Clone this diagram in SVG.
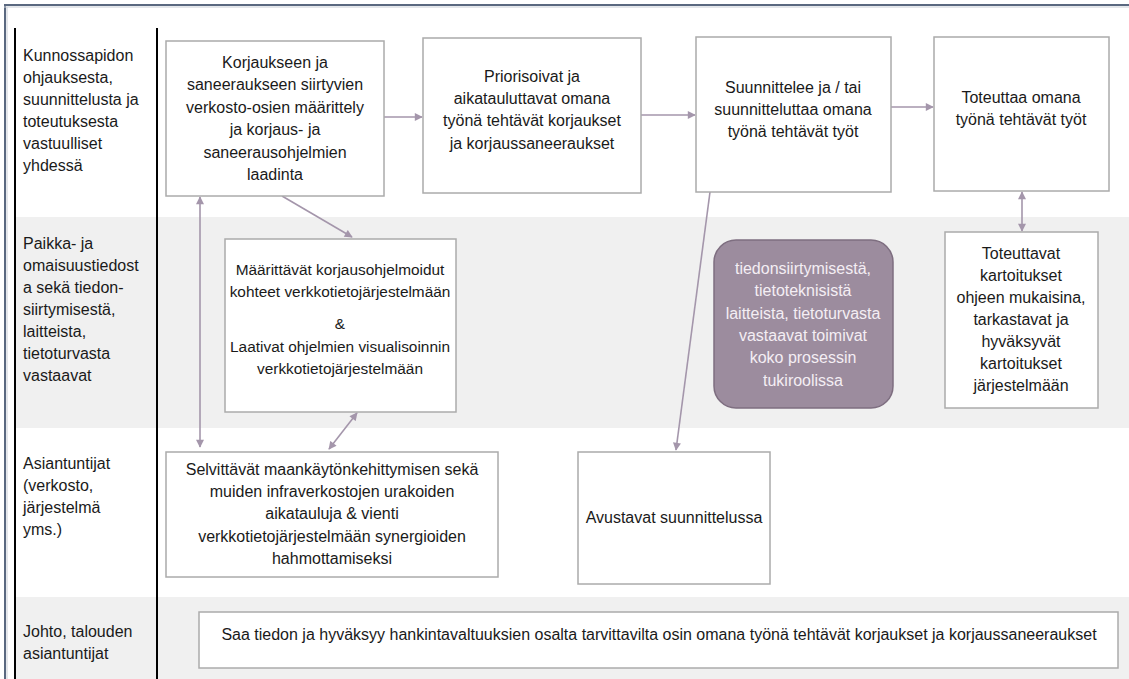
<svg xmlns="http://www.w3.org/2000/svg" width="1129" height="679" viewBox="0 0 1129 679">
  <style>
    text { font-family: "Liberation Sans", Arial, sans-serif; font-size: 16px; fill: #1a1a1a; }
    .c { text-anchor: middle; }
    .lbl { text-anchor: start; }
    .tight { font-size: 15.4px; }
    .box { fill: #ffffff; stroke: #ababab; stroke-width: 1.5; }
    .lane-w { fill: #ffffff; }
    .lane-g { fill: #f0f0f0; }
    .edge { fill: none; stroke: #a496ab; stroke-width: 1.6; }
    .support { fill: #9c8c9e; stroke: #7e6e80; stroke-width: 1.5; }
    .support-t { fill: #f4eef4; text-anchor: middle; }
  </style>
  <defs>
    <marker id="arrow" viewBox="0 0 10 10" refX="9" refY="5" markerWidth="10" markerHeight="8" markerUnits="userSpaceOnUse" orient="auto-start-reverse">
      <path d="M0,0 L10,5 L0,10 z" fill="#a496ab"/>
    </marker>
  </defs>

  <!-- page background and frame -->
  <rect x="0" y="0" width="1129" height="679" fill="#ffffff"/>
  <g id="lanes">
    <rect class="lane-w" x="15" y="28" width="1114" height="189"/>
    <rect class="lane-g" x="15" y="217" width="1114" height="211"/>
    <rect class="lane-w" x="15" y="428" width="1114" height="169"/>
    <rect class="lane-g" x="15" y="597" width="1114" height="82"/>
  </g>
  <g id="frame">
    <line x1="4" y1="5" x2="1129" y2="5" stroke="#5a6880" stroke-width="2"/>
    <line x1="5" y1="4" x2="5" y2="679" stroke="#5a6880" stroke-width="2"/>
    <line x1="4" y1="7" x2="1129" y2="7" stroke="#c9ced6" stroke-width="1"/>
    <line x1="7" y1="7" x2="7" y2="679" stroke="#c9ced6" stroke-width="1"/>
    <line x1="15" y1="28" x2="15" y2="679" stroke="#000000" stroke-width="2"/>
    <line x1="157" y1="28" x2="157" y2="679" stroke="#000000" stroke-width="2"/>
  </g>

  <!-- lane headings -->
  <g id="lane-labels">
    <text class="lbl" x="23" y="61">Kunnossapidon</text>
    <text class="lbl" x="23" y="83">ohjauksesta,</text>
    <text class="lbl" x="23" y="105">suunnittelusta ja</text>
    <text class="lbl" x="23" y="127">toteutuksesta</text>
    <text class="lbl" x="23" y="149">vastuulliset</text>
    <text class="lbl" x="23" y="171">yhdessä</text>

    <text class="lbl" x="23" y="249">Paikka- ja</text>
    <text class="lbl" x="23" y="271">omaisuustiedost</text>
    <text class="lbl" x="23" y="293">a sekä tiedon-</text>
    <text class="lbl" x="23" y="315">siirtymisestä,</text>
    <text class="lbl" x="23" y="337">laitteista,</text>
    <text class="lbl" x="23" y="359">tietoturvasta</text>
    <text class="lbl" x="23" y="381">vastaavat</text>

    <text class="lbl" x="23" y="469">Asiantuntijat</text>
    <text class="lbl" x="23" y="491">(verkosto,</text>
    <text class="lbl" x="23" y="513">järjestelmä</text>
    <text class="lbl" x="23" y="535">yms.)</text>

    <text class="lbl" x="23" y="637">Johto, talouden</text>
    <text class="lbl" x="23" y="659">asiantuntijat</text>
  </g>

  <!-- connectors -->
  <g id="connectors">
    <line class="edge" x1="384" y1="117" x2="422" y2="117" marker-end="url(#arrow)"/>
    <line class="edge" x1="641" y1="115" x2="695" y2="115" marker-end="url(#arrow)"/>
    <line class="edge" x1="891" y1="107" x2="933" y2="107" marker-end="url(#arrow)"/>
    <line class="edge" x1="1022" y1="192" x2="1022" y2="231" marker-start="url(#arrow)" marker-end="url(#arrow)"/>
    <line class="edge" x1="282" y1="196" x2="352" y2="237" marker-end="url(#arrow)"/>
    <line class="edge" x1="200" y1="197" x2="200" y2="447" marker-start="url(#arrow)" marker-end="url(#arrow)"/>
    <line class="edge" x1="357" y1="413" x2="329" y2="449" marker-start="url(#arrow)" marker-end="url(#arrow)"/>
    <line class="edge" x1="710" y1="192" x2="676" y2="450" marker-end="url(#arrow)"/>
  </g>

  <!-- process steps -->
  <g id="node-define">
    <rect class="box" x="166" y="41" width="218" height="155"/>
    <text class="c" x="275" y="68">Korjaukseen ja</text>
    <text class="c" x="275" y="90">saneeraukseen siirtyvien</text>
    <text class="c" x="275" y="113">verkosto-osien määrittely</text>
    <text class="c" x="275" y="135">ja korjaus- ja</text>
    <text class="c" x="275" y="158">saneerausohjelmien</text>
    <text class="c" x="275" y="180">laadinta</text>
  </g>

  <g id="node-prioritise">
    <rect class="box" x="423" y="38" width="218" height="155"/>
    <text class="c" x="532" y="82">Priorisoivat ja</text>
    <text class="c" x="532" y="104">aikatauluttavat omana</text>
    <text class="c" x="532" y="126">työnä tehtävät korjaukset</text>
    <text class="c" x="532" y="149">ja korjaussaneeraukset</text>
  </g>

  <g id="node-design">
    <rect class="box" x="696" y="37" width="195" height="155"/>
    <text class="c" x="793" y="93">Suunnittelee ja / tai</text>
    <text class="c" x="793" y="115">suunnitteluttaa omana</text>
    <text class="c" x="793" y="137">työnä tehtävät työt</text>
  </g>

  <g id="node-implement">
    <rect class="box" x="934" y="37" width="175" height="154"/>
    <text class="c" x="1021" y="103">Toteuttaa omana</text>
    <text class="c" x="1021" y="125">työnä tehtävät työt</text>
  </g>

  <g id="node-register">
    <rect class="box" x="225" y="239" width="231" height="173"/>
    <text class="c tight" x="340" y="275">Määrittävät korjausohjelmoidut</text>
    <text class="c tight" x="340" y="297">kohteet verkkotietojärjestelmään</text>
    <text class="c tight" x="340" y="329">&amp;</text>
    <text class="c tight" x="340" y="352">Laativat ohjelmien visualisoinnin</text>
    <text class="c tight" x="340" y="374">verkkotietojärjestelmään</text>
  </g>

  <g id="node-support">
    <rect class="support" x="714" y="240" width="179" height="168" rx="22" ry="22"/>
    <text class="support-t" x="803" y="274">tiedonsiirtymisestä,</text>
    <text class="support-t" x="803" y="296">tietoteknisistä</text>
    <text class="support-t" x="803" y="319">laitteista, tietoturvasta</text>
    <text class="support-t" x="803" y="341">vastaavat toimivat</text>
    <text class="support-t" x="803" y="363">koko prosessin</text>
    <text class="support-t" x="803" y="386">tukiroolissa</text>
  </g>

  <g id="node-survey">
    <rect class="box" x="945" y="232" width="153" height="176"/>
    <text class="c" x="1021" y="259">Toteuttavat</text>
    <text class="c" x="1021" y="281">kartoitukset</text>
    <text class="c" x="1021" y="303">ohjeen mukaisina,</text>
    <text class="c" x="1021" y="325">tarkastavat ja</text>
    <text class="c" x="1021" y="347">hyväksyvät</text>
    <text class="c" x="1021" y="369">kartoitukset</text>
    <text class="c" x="1021" y="391">järjestelmään</text>
  </g>

  <g id="node-synergy">
    <rect class="box" x="166" y="452" width="332" height="125"/>
    <text class="c" x="332" y="475">Selvittävät maankäytönkehittymisen sekä</text>
    <text class="c" x="332" y="497">muiden infraverkostojen urakoiden</text>
    <text class="c" x="332" y="519">aikatauluja &amp; vienti</text>
    <text class="c" x="332" y="542">verkkotietojärjestelmään synergioiden</text>
    <text class="c" x="332" y="564">hahmottamiseksi</text>
  </g>

  <g id="node-assist">
    <rect class="box" x="578" y="452" width="192" height="132"/>
    <text class="c" x="674" y="523">Avustavat suunnittelussa</text>
  </g>

  <g id="node-approve">
    <rect class="box" x="199" y="612" width="919" height="56"/>
    <text class="c" x="659" y="640">Saa tiedon ja hyväksyy hankintavaltuuksien osalta tarvittavilta osin omana työnä tehtävät korjaukset ja korjaussaneeraukset</text>
  </g>
</svg>
